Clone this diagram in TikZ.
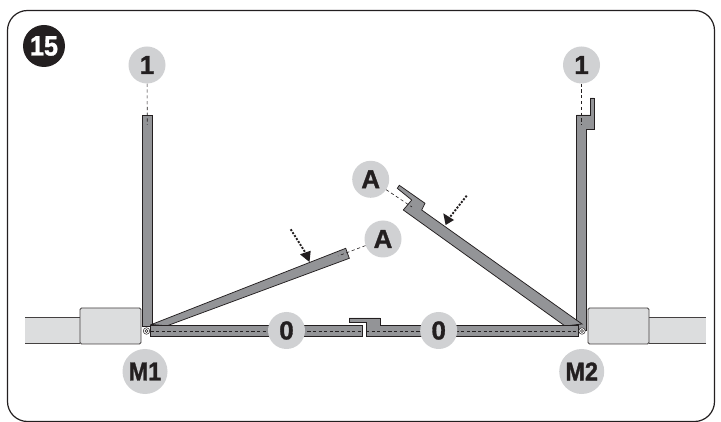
\documentclass[tikz,border=0pt]{standalone}
\usepackage{fontspec}
\setmainfont[BoldFeatures={FakeBold=1.2}]{Liberation Sans}
\definecolor{ink}{HTML}{231F20}
\definecolor{leaf}{HTML}{939497}
\definecolor{disc}{HTML}{D0D1D3}
\definecolor{motor}{HTML}{DCDDDE}
\newcommand{\tight}[1]{\scalebox{0.9}[1]{#1}}
\tikzset{
  frame/.style={draw=ink,line width=1.2pt,rounded corners=20pt},
  leafshape/.style={draw=ink,fill=leaf,line width=0.75pt,line join=miter},
  motorbox/.style={draw=ink!85,line width=0.9pt},
  label/.style={circle,fill=disc,inner sep=0pt,minimum size=37pt,text=ink,font=\fontsize{26}{26}\selectfont\bfseries},
  biglabel/.style={label,minimum size=45pt},
  badge/.style={circle,fill=ink,inner sep=0pt,minimum size=42pt,text=white,font=\fontsize{28}{28}\selectfont\bfseries},
  leader/.style={draw=ink,line width=0.6pt,dash pattern=on 3.2pt off 2.6pt},
  midline/.style={draw=ink,line width=0.55pt,dash pattern=on 3.2pt off 2.4pt},
  pointer/.style={draw=ink,line width=1.9pt,dash pattern=on 2pt off 1.5pt},
  pointerhead/.style={fill=ink,draw=none},
  pivot/.style={circle,draw=ink,fill=white,line width=0.5pt,inner sep=0pt,minimum size=6.5pt},
  pivotin/.style={circle,draw=ink,fill=white,line width=0.5pt,inner sep=0pt,minimum size=3pt}
}
\begin{document}
\begin{tikzpicture}[x=1pt,y=-1pt]
\useasboundingbox (0,0) rectangle (721,422);
\fill[white] (0,0) rectangle (721,422);
% frame
\draw[frame] (7.5,10.5) rectangle (714.5,421.5);
% motors
\fill[motor] (25,317.5) rectangle (80,343);
\draw[motorbox] (25,343.5) -- (80,343.5) (80,317) -- (25,317);
\draw[motorbox,fill=motor,rounded corners=1.5pt] (80,308) rectangle (141,344);
\fill[motor] (649,317.5) rectangle (706,343);
\draw[motorbox] (706,343.5) -- (649,343.5) (649,317) -- (706,317);
\draw[motorbox,fill=motor,rounded corners=1.5pt] (588,308) rectangle (649,344);
% closed and open leaves
\draw[leafshape] (142.5,115) -- (152.5,115) -- (152.5,326) -- (142.5,326) -- cycle;
\draw[leafshape] (586.5,330) -- (586.5,129) -- (594,129) -- (594,98) -- (590,98) -- (590,115) -- (576.5,115) -- (576.5,330) -- cycle;
% diagonal leaves
\draw[leafshape] (151.5,324.5) -- (345.7,248.3) -- (349.3,258.3) -- (167,325.8) -- cycle;
\draw[leafshape] (582,324) -- (421.7,210) -- (425,203.3) -- (399.3,185.3) -- (397.3,188.3) -- (411.7,200) -- (403.3,210) -- (565,326) -- cycle;
% horizontal leaves
\draw[leafshape] (150.5,325.8) -- (362.7,325.8) -- (362.7,336) -- (150.5,336) -- cycle;
\draw[leafshape] (366,336) -- (366,322) -- (349,322) -- (349,318) -- (380,318) -- (380,325.8) -- (578,325.8) -- (578,336) -- cycle;
\draw[midline] (150.5,331) -- (362.7,331);
\draw[midline] (366,331) -- (578,331);
% pivots
\node[pivot] (p1) at (146.5,331) {};
\node[pivotin] at (p1) {};
\node[pivot] (p2) at (582,331) {};
\node[pivotin] at (p2) {};
% labels
\node[badge] (n15) at (44,46) {\tight{15}};
\node[label] (a1) at (147,65) {1};
\node[label] (b1) at (581.5,65) {1};
\node[label] (ra) at (383,239) {A};
\node[label] (la) at (370.7,179.3) {A};
\node[label] (z1) at (286.5,330.5) {0};
\node[label] (z2) at (438.7,330.5) {0};
\node[biglabel] (m1) at (145,371.5) {\tight{M1}};
\node[biglabel] (m2) at (581.7,371.5) {\tight{M2}};
% leaders
\coordinate (a1end) at (147.3,125);
\coordinate (b1end) at (581.5,125);
\coordinate (raend) at (338,256);
\coordinate (laend) at (412,207);
\draw[leader] (a1) -- (a1end);
\draw[leader] (b1) -- (b1end);
\draw[leader] (ra) -- (raend);
\draw[leader] (la) -- (laend);
% pointers
\coordinate (ps1) at (290.7,229.3);
\coordinate (pe1) at (305,252);
\coordinate (ps2) at (466.7,195.7);
\coordinate (pe2) at (450,217);
\draw[pointer] (ps1) -- (pe1);
\draw[pointer] (ps2) -- (pe2);
\fill[pointerhead] (309.5,262) -- (300,254.3) -- (310.7,250.7) -- cycle;
\fill[pointerhead] (445.6,225) -- (443.3,213.3) -- (454,220) -- cycle;
\end{tikzpicture}
\end{document}
